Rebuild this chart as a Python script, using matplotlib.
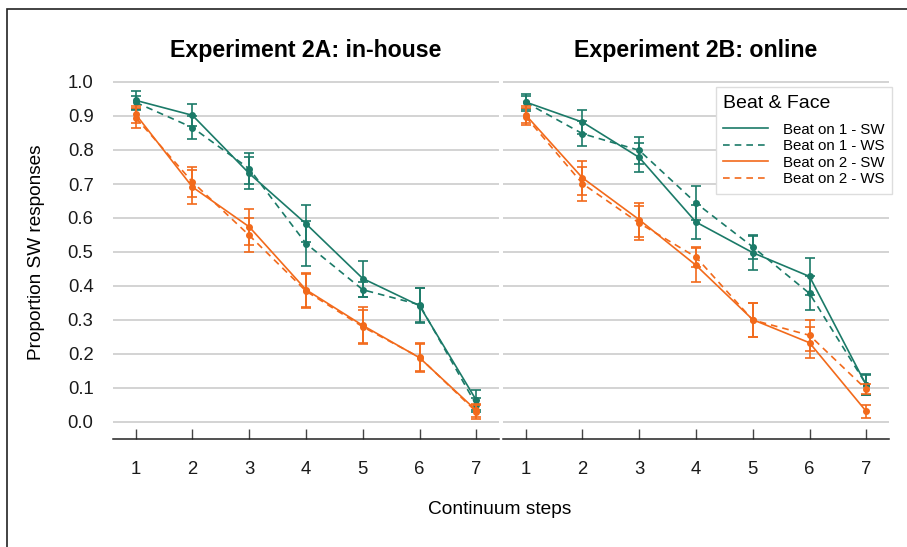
import matplotlib.pyplot as plt
from matplotlib.patches import Rectangle

plt.rcParams['font.family'] = ['Liberation Sans', 'DejaVu Sans']

steps = [1, 2, 3, 4, 5, 6, 7]
panel_titles = ['Experiment 2A: in-house', 'Experiment 2B: online']
series_labels = ['Beat on 1 - SW', 'Beat on 1 - WS', 'Beat on 2 - SW', 'Beat on 2 - WS']

# Experiment 2A
a_b1_sw = [0.946, 0.902, 0.731, 0.583, 0.422, 0.342, 0.064]
a_b1_sw_err = [0.027, 0.032, 0.047, 0.055, 0.053, 0.052, 0.030]
a_b1_ws = [0.940, 0.866, 0.745, 0.525, 0.389, 0.345, 0.050]
a_b1_ws_err = [0.020, 0.035, 0.045, 0.065, 0.022, 0.050, 0.020]
a_b2_sw = [0.905, 0.691, 0.574, 0.389, 0.284, 0.189, 0.034]
a_b2_sw_err = [0.025, 0.050, 0.052, 0.050, 0.053, 0.042, 0.020]
a_b2_ws = [0.895, 0.706, 0.549, 0.385, 0.280, 0.190, 0.030]
a_b2_ws_err = [0.030, 0.045, 0.050, 0.050, 0.050, 0.040, 0.020]

# Experiment 2B
b_b1_sw = [0.941, 0.882, 0.778, 0.588, 0.498, 0.428, 0.108]
b_b1_sw_err = [0.025, 0.035, 0.042, 0.050, 0.050, 0.055, 0.030]
b_b1_ws = [0.940, 0.848, 0.799, 0.644, 0.515, 0.378, 0.110]
b_b1_ws_err = [0.020, 0.036, 0.040, 0.050, 0.035, 0.050, 0.030]
b_b2_sw = [0.903, 0.718, 0.595, 0.461, 0.301, 0.233, 0.031]
b_b2_sw_err = [0.025, 0.050, 0.050, 0.050, 0.050, 0.045, 0.020]
b_b2_ws = [0.898, 0.701, 0.585, 0.485, 0.300, 0.255, 0.096]
b_b2_ws_err = [0.025, 0.050, 0.050, 0.030, 0.050, 0.045, 0.015]

teal = '#1b7a68'
orange = '#f26a1b'
colors = [teal, teal, orange, orange]
styles = ['-', (0, (4, 3)), '-', (0, (4, 3))]

panels = [
    [(a_b1_sw, a_b1_sw_err), (a_b1_ws, a_b1_ws_err), (a_b2_sw, a_b2_sw_err), (a_b2_ws, a_b2_ws_err)],
    [(b_b1_sw, b_b1_sw_err), (b_b1_ws, b_b1_ws_err), (b_b2_sw, b_b2_sw_err), (b_b2_ws, b_b2_ws_err)],
]

W, H = 907, 547
fig = plt.figure(figsize=(W / 100, H / 100), dpi=100)

lefts = [113, 503]
axes = []
for i, left in enumerate(lefts):
    ax = fig.add_axes([left / W, 1 - 439 / H, 386 / W, 374 / H])
    axes.append(ax)
    for (vals, errs), c, ls, lab in zip(panels[i], colors, styles, series_labels):
        ax.plot(steps, vals, color=c, ls=ls, lw=1.2, marker='o', ms=4, label=lab)
        ax.errorbar(steps, vals, yerr=errs, fmt='none', ecolor=c, elinewidth=1.2,
                    capsize=3.3, capthick=1.2)
    ax.set_xlim(0.6, 7.4)
    ax.set_ylim(-0.05, 1.05)
    ax.set_xticks(steps)
    ax.set_yticks([k / 10 for k in range(11)])
    ax.set_yticklabels([f'{k / 10:.1f}' for k in range(11)])
    ax.grid(axis='y', color='#cccccc', lw=1.2)
    ax.set_axisbelow(True)
    for s in ['top', 'right', 'left']:
        ax.spines[s].set_visible(False)
    ax.spines['bottom'].set_color('#222222')
    ax.spines['bottom'].set_linewidth(1.1)
    ax.tick_params(axis='x', direction='in', length=7, width=1, color='#444444',
                   pad=16, labelsize=13.3, labelcolor='#1a1a1a')
    ax.tick_params(axis='y', length=0, pad=14, labelsize=13.3, labelcolor='#1a1a1a')
    if i == 1:
        ax.tick_params(axis='y', labelleft=False)
    fig.text((left + 193) / W, 1 - 50 / H, panel_titles[i], ha='center', va='center',
             fontsize=16.7, fontweight='bold')

leg = axes[1].legend(title='Beat & Face', loc='upper right',
                     bbox_to_anchor=(892 / W, 1 - 87 / H), bbox_transform=fig.transFigure,
                     borderaxespad=0, fontsize=10.8, title_fontsize=14, handlelength=3.0,
                     handletextpad=1.0, labelspacing=0.17, fancybox=False, framealpha=1,
                     edgecolor='#dddddd', borderpad=0.5)
leg._legend_box.align = 'left'
leg._legend_box.sep = 8
for h in leg.legend_handles:
    h.set_marker('')

fig.text(37 / W, 1 - 252 / H, 'Proportion SW responses', rotation=90, ha='center',
         va='center', fontsize=13.7)
fig.text(500 / W, 1 - 509 / H, 'Continuum steps', ha='center', va='center', fontsize=13.8)

fig.patches.append(Rectangle((7 / W, -0.1), 1.2, 1.1 - 9 / H, transform=fig.transFigure,
                             fill=False, edgecolor='#222222', lw=1.2))

fig.savefig('out.png', dpi=100)
